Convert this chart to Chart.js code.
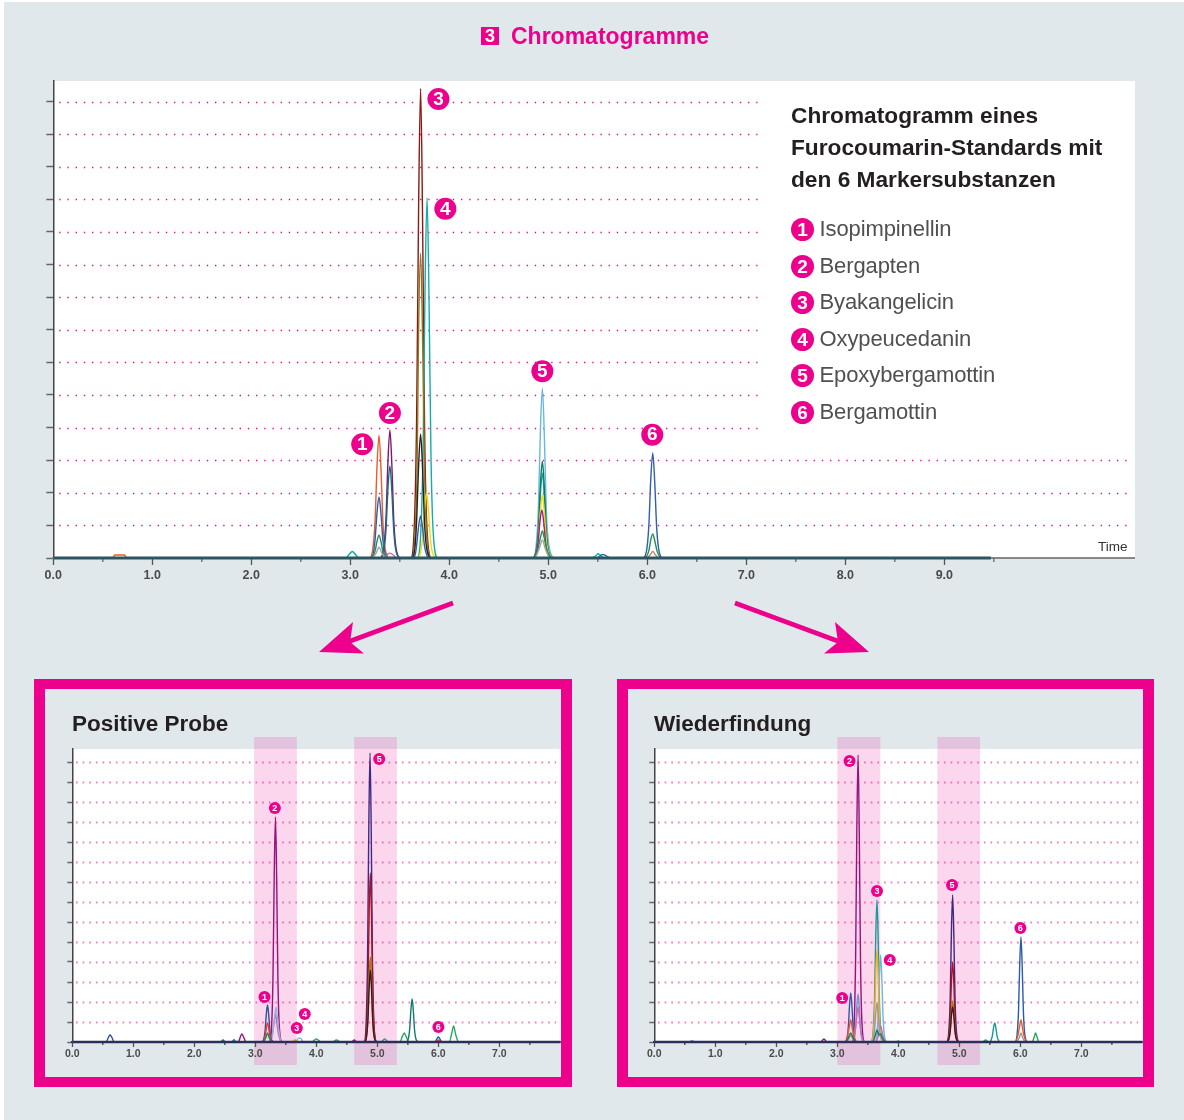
<!DOCTYPE html>
<html lang="de"><head><meta charset="utf-8"><title>Chromatogramme</title>
<script src="https://cdn.jsdelivr.net/npm/chart.js@4"></script>
<style>
html,body{margin:0;padding:0;background:#fff;width:1184px;height:1120px;overflow:hidden;font-family:"Liberation Sans",Arial,sans-serif}
#bg{position:absolute;left:4px;top:2px;right:0;bottom:0;background:#e1e8eb}
.abs{position:absolute;white-space:nowrap}
canvas{position:absolute;display:block}
.panel{position:absolute;box-sizing:border-box;top:679px;height:408px;border:10px solid #ec008c;border-left-width:11px;border-right-width:11px}
.ptitle{font-weight:bold;font-size:22.5px;color:#231f20;line-height:26px;top:711px}
.badge{position:absolute;left:791px;width:23px;height:23px;border-radius:50%;background:#ec008c;color:#fff;font-weight:bold;font-size:19px;line-height:23px;text-align:center}
.item{position:absolute;left:819.5px;font-size:22px;line-height:28px;color:#505050;white-space:nowrap;letter-spacing:-.1px}
</style></head><body>
<div id="bg"></div>
<div class="panel" style="left:34px;width:538px"></div>
<div class="panel" style="left:617px;width:537px"></div>
<canvas id="topChart" width="1115" height="530" style="left:20px;top:70px"></canvas>
<canvas id="leftChart" width="514" height="340" style="left:47px;top:730px"></canvas>
<canvas id="rightChart" width="514" height="340" style="left:629px;top:730px"></canvas>
<svg class="abs" style="left:0;top:0" width="1184" height="1120">
<line x1="453" y1="603" x2="345" y2="643" stroke="#ec008c" stroke-width="4.6"/>
<polygon points="319,652 353,622 350,642 364,653.5" fill="#ec008c"/>
<line x1="735" y1="603" x2="843" y2="643" stroke="#ec008c" stroke-width="4.6"/>
<polygon points="869,652 835,622 838,642 824,653.5" fill="#ec008c"/>
</svg>
<div class="abs" style="left:481px;top:27px;width:18px;height:18px;background:#ec008c;color:#fff;font-weight:bold;font-size:18px;line-height:18px;text-align:center">3</div>
<div class="abs" style="left:511px;top:22px;font-weight:bold;font-size:23px;line-height:28px;color:#ec008c">Chromatogramme</div>
<div class="abs" style="left:791px;top:99px;font-weight:bold;font-size:22.7px;line-height:32px;color:#231f20">Chromatogramm eines<br>Furocoumarin-Standards mit<br>den 6 Markersubstanzen</div>
<div class="abs ptitle" style="left:72px">Positive Probe</div>
<div class="abs ptitle" style="left:654px">Wiederfindung</div>
<div class="abs" style="left:1098px;top:538.5px;font-size:13.5px;line-height:16px;color:#333">Time</div>
<div id="legend"></div>
<script>
// Legend of marker substances
const markerNames = ["Isopimpinellin","Bergapten","Byakangelicin","Oxypeucedanin","Epoxybergamottin","Bergamottin"];
const markerIds = ["1","2","3","4","5","6"];

// Upper chromatogram (standard): [time, signal]
const topBaseline = [[0,0],[9.47,0]];
const topOrange = [[0,0],[0.6,0],[0.62,0.09],[0.72,0.09],[0.74,0],[3.19,0],[3.225,0.23],[3.25,1.13],[3.27,2.83],[3.29,3.77],[3.31,2.71],[3.33,1.06],[3.355,0.23],[3.4,0],[9.4,0]];
const topBlue = [[0,0],[3.2,0],[3.23,0.11],[3.25,0.56],[3.27,1.4],[3.29,1.87],[3.31,1.35],[3.33,0.52],[3.355,0.11],[3.4,0],[3.62,0],[3.655,0.1],[3.67,0.4],[3.69,0.97],[3.71,1.29],[3.73,0.93],[3.75,0.36],[3.8,0],[5.49,0],[5.53,0.08],[5.55,0.11],[5.58,0.07],[5.63,0],[5.95,0],[5.99,0.19],[6.015,0.97],[6.035,2.42],[6.055,3.22],[6.075,2.32],[6.095,0.9],[6.12,0.19],[6.16,0],[9.4,0]];
const topGreen = [[0,0],[3.2,0],[3.25,0.21],[3.27,0.52],[3.29,0.7],[3.31,0.5],[3.33,0.2],[3.39,0],[4.84,0],[4.89,0.22],[4.92,0.62],[4.94,0.83],[4.96,0.6],[4.99,0.2],[5.05,0],[5.97,0],[6.015,0.22],[6.035,0.56],[6.055,0.74],[6.075,0.53],[6.1,0.2],[6.15,0],[9.4,0]];
const topGray = [[0,0],[3.21,0],[3.26,0.14],[3.29,0.33],[3.32,0.14],[3.37,0],[4.86,0],[4.91,0.3],[4.94,0.55],[4.97,0.28],[5.02,0],[9.4,0]];
const topPurple = [[0,0],[3.3,0],[3.335,0.24],[3.36,1.18],[3.38,2.95],[3.4,3.93],[3.42,2.83],[3.44,1.1],[3.465,0.24],[3.51,0],[9.4,0]];
const topDeepTeal = [[0,0],[3.3,0],[3.335,0.17],[3.36,0.85],[3.38,2.12],[3.4,2.82],[3.42,2.03],[3.44,0.79],[3.465,0.17],[3.51,0],[9.4,0]];
const topPink = [[0,0],[3.34,0],[3.38,0.12],[3.4,0.15],[3.43,0.1],[3.47,0],[9.4,0]];
const topBlack = [[0,0],[3.62,0],[3.65,0.23],[3.67,1.14],[3.69,2.85],[3.71,3.8],[3.73,2.74],[3.75,1.06],[3.775,0.23],[3.82,0],[9.4,0]];
const topYellow = [[0,0],[3.67,0],[3.705,0.12],[3.73,0.6],[3.75,1.5],[3.77,2],[3.79,1.44],[3.81,0.56],[3.835,0.12],[3.88,0],[4.84,0],[4.875,0.12],[4.9,0.58],[4.92,1.45],[4.94,1.93],[4.96,1.39],[4.98,0.54],[5.005,0.12],[5.05,0],[9.4,0]];
const topMagenta = [[0,0],[4.84,0],[4.87,0.09],[4.895,0.44],[4.915,1.1],[4.935,1.47],[4.955,1.06],[4.975,0.41],[5,0.09],[5.04,0],[9.4,0]];
const topOlive = [[0,0],[3.62,0],[3.65,0.56],[3.675,2.8],[3.69,7],[3.71,9.35],[3.73,6.73],[3.75,2.62],[3.775,0.56],[3.82,0],[9.4,0]];
const topDarkRed = [[0,0],[3.61,0],[3.645,0.86],[3.67,4.32],[3.69,10.8],[3.71,14.4],[3.73,10.37],[3.75,4.03],[3.775,0.86],[3.82,0],[9.4,0]];
const topTeal = [[0,0],[2.95,0],[3,0.15],[3.02,0.2],[3.04,0.15],[3.09,0],[3.675,0],[3.71,0.66],[3.735,3.31],[3.755,8.28],[3.775,11.04],[3.795,7.95],[3.815,3.09],[3.84,0.66],[3.885,0],[4.84,0],[4.875,0.16],[4.9,0.78],[4.92,1.95],[4.94,2.6],[4.96,1.87],[4.98,0.73],[5.005,0.16],[5.05,0],[5.44,0],[5.49,0.1],[5.5,0.13],[5.52,0.1],[5.57,0],[9.4,0]];
const topForest = [[0,0],[4.84,0],[4.875,0.18],[4.9,0.89],[4.92,2.23],[4.94,2.97],[4.96,2.14],[4.98,0.83],[5.005,0.18],[5.05,0],[9.4,0]];
const topSky = [[0,0],[4.84,0],[4.875,0.31],[4.9,1.56],[4.92,3.9],[4.94,5.2],[4.96,3.74],[4.98,1.46],[5.005,0.4],[5.07,0],[9.4,0]];
const topRust = [[0,0],[5.99,0],[6.03,0.1],[6.055,0.2],[6.08,0.1],[6.12,0],[9.4,0]];
const topBadgeX = [3.12,3.4,3.89,3.96,4.94,6.05];
const topBadgeY = [3.49,4.45,14.08,10.71,5.73,3.78];

// Lower left chromatogram (Positive Probe)
const leftBaseline = [[0,0],[8,0]];
const leftNavy = [[0,0],[0.55,0],[0.6,0.28],[0.62,0.35],[0.64,0.28],[0.69,0],[3.1,0],[3.135,0.11],[3.16,0.56],[3.18,1.39],[3.2,1.85],[3.22,1.33],[3.24,0.52],[3.265,0.11],[3.31,0],[5.94,0],[5.98,0.18],[6,0.25],[6.02,0.18],[6.06,0],[8,0]];
const leftRed = [[0,0],[3.11,0],[3.16,0.28],[3.18,0.71],[3.2,0.95],[3.22,0.68],[3.24,0.27],[3.3,0],[5.95,0],[6,0.1],[6.05,0],[8,0]];
const leftGreen = [[0,0],[3.12,0],[3.17,0.2],[3.2,0.45],[3.23,0.19],[3.29,0],[8,0]];
const leftBlack = [[0,0],[4.785,0],[4.82,0.22],[4.845,1.08],[4.865,2.7],[4.885,3.6],[4.905,2.59],[4.925,1.01],[4.95,0.22],[4.995,0],[8,0]];
const leftOlive = [[0,0],[4.785,0],[4.82,0.26],[4.845,1.28],[4.865,3.19],[4.885,4.25],[4.905,3.06],[4.925,1.19],[4.95,0.26],[4.995,0],[8,0]];
const leftCrimson = [[0,0],[4.785,0],[4.82,0.51],[4.845,2.54],[4.865,6.34],[4.885,8.45],[4.905,6.08],[4.925,2.37],[4.95,0.51],[4.995,0],[8,0]];
const leftPurple = [[0,0],[4.78,0],[4.815,0.87],[4.84,4.34],[4.86,10.84],[4.88,14.45],[4.9,10.4],[4.92,4.05],[4.945,0.87],[4.99,0],[8,0]];
const leftPale = [[0,0],[3.25,0],[3.29,0.5],[3.32,1.35],[3.34,1.75],[3.36,1.3],[3.39,0.5],[3.43,0],[3.66,0],[3.7,0.18],[3.72,0.2],[3.75,0.16],[3.79,0],[8,0]];
const leftPink = [[0,0],[3.24,0],[3.28,0.42],[3.31,1.05],[3.33,1.4],[3.35,1.01],[3.38,0.39],[3.43,0],[8,0]];
const leftMagenta = [[0,0],[2.72,0],[2.76,0.3],[2.78,0.4],[2.8,0.3],[2.85,0],[3.23,0],[3.265,0.68],[3.29,3.38],[3.31,8.44],[3.33,11.25],[3.35,8.1],[3.37,3.15],[3.395,0.68],[3.44,0],[4.58,0],[4.62,0.1],[4.66,0],[8,0]];
const leftSeaTeal = [[0,0],[2.43,0],[2.47,0.1],[2.51,0],[2.61,0],[2.65,0.12],[2.69,0],[5.47,0],[5.505,0.13],[5.53,0.65],[5.55,1.61],[5.57,2.15],[5.59,1.55],[5.61,0.6],[5.635,0.13],[5.68,0],[8,0]];
const leftLeaf = [[0,0],[3.92,0],[4,0.15],[4.08,0],[4.26,0],[4.33,0.1],[4.4,0],[5.06,0],[5.12,0.15],[5.18,0],[5.37,0],[5.41,0.28],[5.44,0.45],[5.47,0.28],[5.52,0],[6.18,0],[6.22,0.45],[6.25,0.8],[6.28,0.42],[6.33,0],[8,0]];
const leftAmber = [[0,0],[3.6,0],[3.65,0.1],[3.7,0],[8,0]];
const leftBadgeX = [3.15,3.32,3.68,3.81,5.03,6];
const leftBadgeY = [2.25,11.7,0.7,1.4,14.15,0.75];

// Lower right chromatogram (Wiederfindung)
const rightBaseline = [[0,0],[8,0]];
const rightLeaf = [[0,0],[3.96,0],[4,0.05],[4.04,0],[5.38,0],[5.43,0.1],[5.48,0],[6.19,0],[6.23,0.28],[6.25,0.45],[6.27,0.28],[6.31,0],[8,0]];
const rightGreen = [[0,0],[3.13,0],[3.18,0.2],[3.22,0.45],[3.26,0.2],[3.31,0],[3.58,0],[3.62,0.3],[3.65,0.6],[3.68,0.35],[3.71,0.4],[3.74,0.2],[3.79,0],[8,0]];
const rightGray = [[0,0],[3.14,0],[3.19,0.16],[3.22,0.35],[3.25,0.15],[3.3,0],[3.55,0],[3.59,0.12],[3.61,0.58],[3.63,1.46],[3.65,1.95],[3.67,1.4],[3.69,0.55],[3.72,0.12],[3.76,0],[5.93,0],[5.98,0.2],[6.01,0.45],[6.04,0.2],[6.09,0],[8,0]];
const rightOrange = [[0,0],[3.12,0],[3.17,0.33],[3.2,0.83],[3.22,1.1],[3.24,0.79],[3.27,0.31],[3.32,0],[5.91,0],[5.96,0.33],[5.99,0.83],[6.01,1.1],[6.03,0.79],[6.06,0.31],[6.11,0],[8,0]];
const rightPink = [[0,0],[3.25,0],[3.29,0.52],[3.32,1.31],[3.34,1.75],[3.36,1.26],[3.39,0.49],[3.44,0],[3.63,0],[3.67,0.3],[3.71,0.8],[3.75,0.28],[3.79,0],[8,0]];
const rightSteel = [[0,0],[3.24,0],[3.275,0.14],[3.3,0.72],[3.32,1.8],[3.34,2.4],[3.36,1.73],[3.38,0.67],[3.405,0.14],[3.45,0],[8,0]];
const rightNavy = [[0,0],[0.57,0],[0.62,0.05],[0.67,0],[3.12,0],[3.155,0.15],[3.18,0.74],[3.2,1.84],[3.22,2.45],[3.24,1.76],[3.26,0.69],[3.285,0.15],[3.33,0],[5.91,0],[5.945,0.32],[5.97,1.58],[5.99,3.94],[6.01,5.25],[6.03,3.78],[6.05,1.47],[6.075,0.32],[6.12,0],[8,0]];
const rightAmber = [[0,0],[3.55,0],[3.585,0.28],[3.61,1.38],[3.63,3.45],[3.65,4.6],[3.67,3.31],[3.69,1.29],[3.715,0.28],[3.76,0],[8,0]];
const rightSky = [[0,0],[3.61,0],[3.645,0.26],[3.67,1.3],[3.69,3.26],[3.71,4.35],[3.73,3.13],[3.75,1.22],[3.775,0.26],[3.82,0],[8,0]];
const rightTeal = [[0,0],[3.55,0],[3.585,0.43],[3.61,2.13],[3.63,5.33],[3.65,7.1],[3.67,5.11],[3.69,1.99],[3.715,0.43],[3.76,0],[5.48,0],[5.515,0.06],[5.54,0.29],[5.56,0.71],[5.58,0.95],[5.6,0.68],[5.62,0.27],[5.645,0.06],[5.69,0],[8,0]];
const rightBlack = [[0,0],[4.79,0],[4.825,0.11],[4.85,0.53],[4.87,1.31],[4.89,1.75],[4.91,1.26],[4.93,0.49],[4.955,0.11],[5,0],[8,0]];
const rightOlive = [[0,0],[4.79,0],[4.825,0.12],[4.85,0.62],[4.87,1.54],[4.89,2.05],[4.91,1.48],[4.93,0.57],[4.955,0.12],[5,0],[8,0]];
const rightCrimson = [[0,0],[4.79,0],[4.825,0.24],[4.85,1.2],[4.87,3],[4.89,4],[4.91,2.88],[4.93,1.12],[4.955,0.24],[5,0],[8,0]];
const rightPurple = [[0,0],[4.79,0],[4.825,0.44],[4.85,2.2],[4.87,5.51],[4.89,7.35],[4.91,5.29],[4.93,2.06],[4.955,0.44],[5,0],[8,0]];
const rightMagenta = [[0,0],[2.73,0],[2.78,0.15],[2.83,0],[3.24,0],[3.275,0.86],[3.3,4.3],[3.32,10.76],[3.34,14.35],[3.36,10.33],[3.38,4.02],[3.405,0.86],[3.45,0],[8,0]];
const rightBadgeX = [3.08,3.2,3.65,3.86,4.88,6];
const rightBadgeY = [2.2,14.05,7.55,4.1,7.85,5.7];

// Build the legend
const legend = document.getElementById('legend');
markerNames.forEach((n,i)=>{
  const top = [218,255,291,328,364,401][i];
  const b = document.createElement('div'); b.className='badge'; b.textContent=markerIds[i]; b.style.top=top+'px';
  const t = document.createElement('div'); t.className='item'; t.textContent=n; t.style.top=(top-3)+'px';
  legend.append(b,t);
});

const PINK = '#ec008c';
const stage = {
  id:'stage',
  beforeDraw(c,_a,o){
    const {ctx,chartArea:a,scales:{x}} = c;
    ctx.save();
    ctx.fillStyle='#fff'; ctx.fillRect(a.left,a.top,a.right-a.left,a.bottom-a.top);
    ctx.fillStyle='rgba(236,0,140,0.16)';
    (o.bands||[]).forEach(b=>{const l=x.getPixelForValue(b[0]),r=x.getPixelForValue(b[1]);ctx.fillRect(l,7,r-l,c.height-12);});
    ctx.restore();
  },
  beforeDatasetsDraw(c,_a,o){
    const {ctx,scales:{x,y}} = c;
    ctx.save();
    ctx.strokeStyle=o.dotColor; ctx.lineWidth=o.dotWidth; ctx.setLineDash(o.dotDash);
    y.ticks.forEach(t=>{
      if(t.value<1) return;
      const py=Math.round(y.getPixelForValue(t.value))+.5;
      const end = (o.shortAbove!==undefined && t.value>=o.shortAbove)? o.shortEnd : o.dotEnd;
      ctx.beginPath(); ctx.moveTo(x.getPixelForValue(o.dotStart),py); ctx.lineTo(x.getPixelForValue(end),py); ctx.stroke();
    });
    ctx.setLineDash([]);
    ctx.strokeStyle=o.minorColor; ctx.lineWidth=1.3;
    x.ticks.forEach(t=>{
      if(Number.isInteger(t.value)) return;
      const px=x.getPixelForValue(t.value); ctx.beginPath(); ctx.moveTo(px,c.chartArea.bottom); ctx.lineTo(px,c.chartArea.bottom+o.minorLen); ctx.stroke();
    });
    ctx.restore();
  },
  afterDatasetsDraw(c,_a,o){
    const {ctx,scales:{x,y}} = c;
    ctx.save(); ctx.textAlign='center'; ctx.textBaseline='middle';
    o.badgeX.forEach((v,i)=>{
      const px=x.getPixelForValue(v),py=y.getPixelForValue(o.badgeY[i]);
      ctx.fillStyle=PINK; ctx.beginPath(); ctx.arc(px,py,o.badgeR,0,Math.PI*2); ctx.fill();
      ctx.fillStyle='#fff'; ctx.font='bold '+o.badgeFont+'px "Liberation Sans"'; ctx.fillText(markerIds[i],px,py+.5);
    });
    ctx.restore();
  }
};

function make(id,traces,cfg){
  return new Chart(document.getElementById(id),{
    type:'line',
    data:{datasets:traces.map(([d,col,w])=>({data:d.map(p=>({x:p[0],y:p[1]})),borderColor:col,borderWidth:w||1.4,pointRadius:0,cubicInterpolationMode:'monotone',clip:false,fill:false}))},
    options:{
      responsive:false,animation:false,events:[],
      layout:{padding:{top:cfg.padTop,left:0,right:0,bottom:0}},
      plugins:{legend:{display:false},tooltip:{enabled:false},stage:cfg.stage},
      scales:{
        x:{type:'linear',min:0,max:cfg.xMax,
          afterFit:s=>{s.height=cfg.axisH},
          afterBuildTicks:s=>{s.ticks=s.ticks.filter(t=>t.value<=cfg.tickEnd)},
          border:{color:cfg.xBorder,width:2},
          grid:{drawOnChartArea:false,drawTicks:true,tickLength:cfg.xTick,tickWidth:1.3,tickColor:t=>Number.isInteger(t.tick.value)?'#555':'rgba(0,0,0,0)'},
          ticks:{stepSize:0.5,includeBounds:false,autoSkip:false,maxRotation:0,padding:cfg.tickPad,color:'#4a4a4a',font:{family:'Liberation Sans',size:cfg.fontSize,weight:'bold'},
            callback:v=>(Number.isInteger(v)&&v<=cfg.labelEnd)?v.toFixed(1):''}},
        y:{type:'linear',min:0,max:cfg.yMax,
          afterFit:s=>{s.width=cfg.axisW},
          border:{color:'#444',width:1.5},
          grid:{drawOnChartArea:false,drawTicks:true,tickLength:cfg.yTick,tickWidth:1.5,tickColor:'#666'},
          ticks:{display:false,stepSize:1,includeBounds:false}}
      }
    },
    plugins:[stage]
  });
}

make('topChart',[
  [topBaseline,'#2d5560',3],
  [topPink,'#c070b0'],[topRust,'#c5806f'],[topGray,'#a3a3a3'],[topGreen,'#1e8f55'],
  [topBlue,'#2f5fb0'],[topBlack,'#222222'],[topMagenta,'#a0207f'],[topYellow,'#f5d90a'],
  [topDeepTeal,'#1d6a78'],[topForest,'#0e7a5c'],[topPurple,'#7a1a70'],[topOrange,'#ee5a2a'],
  [topSky,'#6bb6e3'],[topOlive,'#8a7a20'],[topTeal,'#12ada8'],[topDarkRed,'#8c1a12']
],{padTop:11,axisH:42,axisW:33.3,xMax:10.926,yMax:14.63,tickEnd:9.5,labelEnd:9,xBorder:'#888',xTick:7,yTick:7,tickPad:3,fontSize:12.5,
  stage:{bands:[],dotColor:PINK,dotWidth:1.3,dotDash:[1.3,6.9],dotStart:0.06,dotEnd:10.89,shortAbove:4,shortEnd:7.16,minorColor:'#666',minorLen:4,badgeX:topBadgeX,badgeY:topBadgeY,badgeR:11,badgeFont:19}});

const lowerCfg = {padTop:19,axisH:28,axisW:25.3,xMax:8.01,yMax:14.65,tickEnd:7.5,labelEnd:7,xBorder:'#2b2e5c',xTick:5,yTick:5,tickPad:1,fontSize:10.5};
const lowerStage = {dotColor:'rgba(236,0,140,0.5)',dotWidth:1.8,dotDash:[1.7,4.95],dotStart:0.06,dotEnd:7.93,minorColor:'#444',minorLen:3,badgeR:6,badgeFont:9};

make('leftChart',[
  [leftBaseline,'#2b2e5c',2.5],
  [leftAmber,'#e8a020'],[leftGreen,'#1c8a5a'],[leftRed,'#e2402a'],[leftNavy,'#2f4f9f'],
  [leftBlack,'#3a1a1a'],[leftOlive,'#a07a20'],[leftCrimson,'#b01020'],[leftPale,'#8fb4e0'],[leftPink,'#c070b0'],
  [leftSeaTeal,'#0f7a6e'],[leftLeaf,'#2aa860'],[leftPurple,'#3c2a86'],[leftMagenta,'#96127c']
],{...lowerCfg,stage:{...lowerStage,bands:[[2.98,3.68],[4.62,5.32]],badgeX:leftBadgeX,badgeY:leftBadgeY}});

make('rightChart',[
  [rightBaseline,'#2b2e5c',2.5],
  [rightGreen,'#1c7a5a'],[rightGray,'#9a9a9a'],[rightOrange,'#e8582a'],[rightPink,'#c070b0'],
  [rightBlack,'#3a1a1a'],[rightOlive,'#a07a20'],[rightCrimson,'#b01020'],[rightSteel,'#6d94d0'],[rightNavy,'#2a5cab'],
  [rightAmber,'#f0b020'],[rightLeaf,'#2aa860'],[rightSky,'#6bb6e3'],[rightTeal,'#1a9a98'],[rightPurple,'#3c2a86'],[rightMagenta,'#96127c']
],{...lowerCfg,stage:{...lowerStage,bands:[[3,3.705],[4.64,5.34]],badgeX:rightBadgeX,badgeY:rightBadgeY}});
</script>
</body></html>
